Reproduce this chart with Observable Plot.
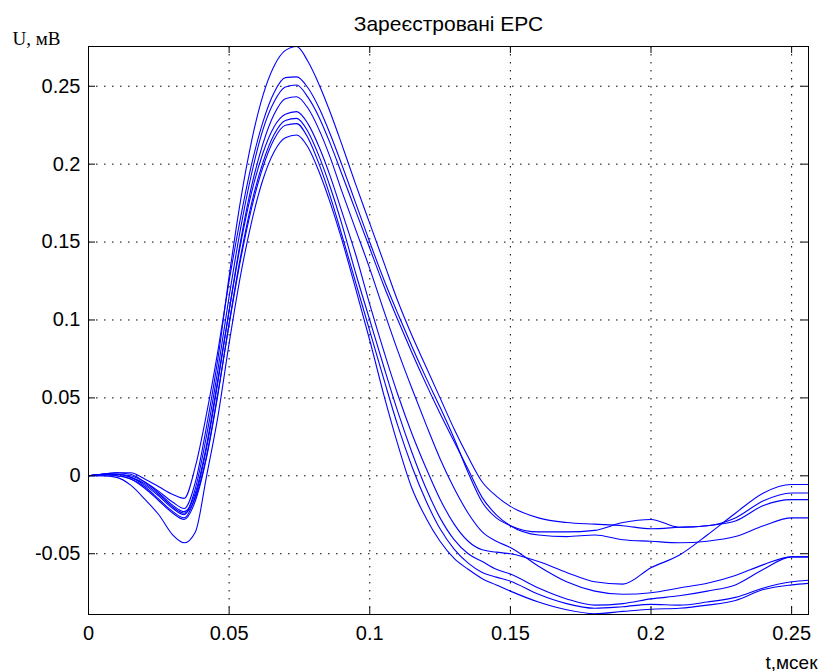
<!DOCTYPE html>
<html><head><meta charset="utf-8">
<script src="https://cdn.jsdelivr.net/npm/d3@7"></script>
<script src="https://cdn.jsdelivr.net/npm/@observablehq/plot@0.6"></script>
<style>body{margin:0;background:#fff} #chart{width:822px;height:671px}</style>
</head><body><div id="chart"></div>
<script>
// time grid, msec
const t = [0,0.005,0.01,0.015,0.02,0.025,0.03,
  0.034,0.038,0.042,0.046,0.05,0.054,0.058,0.062,0.066,0.07,0.074,0.078,0.082,0.086,0.09,
  0.095,0.1,0.105,0.11,0.115,0.12,0.125,0.13,0.135,0.14,0.145,0.15,
  0.16,0.17,0.18,0.19,0.2,0.21,0.22,0.23,0.24,0.25,
  0.256];
// registered EMF traces, mV
const U1 = [0,0.001,0.002,0.001,-0.004,-0.01,-0.017,
  -0.021,-0.004,0.032,0.075,0.128,0.176,0.215,0.244,0.263,0.273,0.2755,0.266,0.251,0.233,0.213,
  0.187,0.162,0.137,0.112,0.09,0.07,0.05,0.03,0.012,-0.004,-0.013,-0.0196,
  -0.027,-0.03,-0.031,-0.032,-0.034,-0.033,-0.032,-0.027,-0.016,-0.011,
  -0.011];
const U2 = [0,0.001,0.002,0.002,-0.002,-0.007,-0.012,
  -0.0145,0.006,0.04,0.08,0.125,0.165,0.2,0.227,0.246,0.2555,0.256,0.249,0.236,0.219,0.2,
  0.175,0.15,0.126,0.104,0.083,0.063,0.044,0.024,0.002,-0.017,-0.027,-0.032,
  -0.036,-0.036,-0.035,-0.030,-0.028,-0.033,-0.032,-0.029,-0.019,-0.0153,
  -0.0153];
const U3 = [0,0.001,0.001,-0.001,-0.006,-0.013,-0.021,
  -0.025,-0.008,0.026,0.068,0.115,0.158,0.194,0.222,0.24,0.2495,0.2508,0.243,0.23,0.213,0.194,
  0.17,0.146,0.122,0.1,0.079,0.059,0.04,0.022,0.004,-0.014,-0.025,-0.032,
  -0.038,-0.039,-0.038,-0.041,-0.042,-0.043,-0.042,-0.039,-0.032,-0.027,
  -0.027];
const L1 = [0,0.001,0,-0.002,-0.007,-0.015,-0.023,
  -0.027,-0.013,0.018,0.06,0.106,0.15,0.186,0.213,0.232,0.242,0.2433,0.236,0.222,0.204,0.183,
  0.158,0.133,0.106,0.08,0.056,0.033,0.011,-0.008,-0.024,-0.036,-0.042,-0.046,
  -0.058,-0.068,-0.074,-0.076,-0.075,-0.072,-0.069,-0.064,-0.057,-0.052,
  -0.052];
const C1 = [0,0.001,0.001,0,-0.004,-0.011,-0.019,
  -0.023,-0.011,0.02,0.062,0.106,0.148,0.182,0.207,0.224,0.232,0.2337,0.226,0.211,0.192,0.17,
  0.142,0.11,0.08,0.052,0.027,0.005,-0.015,-0.031,-0.042,-0.0475,-0.049,-0.05,
  -0.055,-0.062,-0.068,-0.0695,-0.059,-0.051,-0.038,-0.024,-0.011,-0.0056,
  -0.0056];
const L2 = [0,0,0,-0.002,-0.008,-0.016,-0.024,
  -0.028,-0.016,0.012,0.052,0.098,0.14,0.175,0.201,0.219,0.228,0.2294,0.221,0.205,0.185,0.162,
  0.13,0.1,0.07,0.041,0.015,-0.008,-0.027,-0.041,-0.05,-0.055,-0.06,-0.063,
  -0.072,-0.079,-0.083,-0.082,-0.079,-0.077,-0.074,-0.07,-0.06,-0.052,
  -0.052];
const L3 = [0,0.001,0.001,-0.001,-0.005,-0.012,-0.02,
  -0.024,-0.014,0.013,0.053,0.097,0.138,0.172,0.198,0.216,0.225,0.226,0.217,0.2,0.179,0.155,
  0.124,0.093,0.062,0.032,0.006,-0.016,-0.034,-0.047,-0.056,-0.062,-0.065,-0.0676,
  -0.076,-0.082,-0.085,-0.084,-0.0825,-0.083,-0.081,-0.078,-0.072,-0.068,
  -0.067];
const L4 = [0,0,-0.001,-0.006,-0.015,-0.025,-0.038,
  -0.043,-0.036,0,0.038,0.085,0.128,0.163,0.19,0.208,0.217,0.2187,0.211,0.195,0.175,0.152,
  0.12,0.087,0.052,0.02,-0.008,-0.027,-0.042,-0.053,-0.06,-0.066,-0.07,-0.074,
  -0.081,-0.086,-0.0885,-0.087,-0.0856,-0.085,-0.083,-0.08,-0.073,-0.07,
  -0.069];

const xTicks = [0,0.05,0.1,0.15,0.2,0.25];
const xTickLabels = ["0","0.05","0.1","0.15","0.2","0.25"];
const yTicks = [-0.05,0,0.05,0.1,0.15,0.2,0.25];
const yTickLabels = ["-0.05","0","0.05","0.1","0.15","0.2","0.25"];
const titleText = "Зареєстровані ЕРС";
const yLabel = "U, мВ";
const xLabel = "t,мсек";

const series = [U1,U2,U3,L1,C1,L2,L3,L4];
const rows = series.flatMap((s,k) => s.map((v,i) => ({t: t[i], v, k})));

const W = 822, H = 671, mL = 88, mR = 14, mT = 46, mB = 57;
const fW = W - mL - mR, fH = H - mT - mB, tl = 7;
const sans = "'Liberation Sans', Arial, Helvetica, sans-serif";

const chart = Plot.plot({
  width: W, height: H,
  marginLeft: mL, marginRight: mR, marginTop: mT, marginBottom: mB,
  style: {background: "#fff", color: "#000", fontFamily: sans, fontSize: "20px"},
  x: {domain: [0, 0.256]},
  y: {domain: [-0.089, 0.2755]},
  marks: [
    Plot.ruleX(xTicks.slice(1), {x: d => d, stroke: "#000", strokeWidth: 1, strokeDasharray: "1.5,6.5"}),
    Plot.ruleY(yTicks, {y: d => d, stroke: "#000", strokeWidth: 1, strokeDasharray: "1.5,6.5"}),
    Plot.line(rows, {x: "t", y: "v", z: "k", stroke: "#0000ff", strokeWidth: 1.1, curve: "monotone-x", clip: true}),
    Plot.frame({stroke: "#000", strokeWidth: 1}),
    Plot.tickX(xTicks, {x: d => d, insetTop: fH - tl, stroke: "#000"}),
    Plot.tickX(xTicks, {x: d => d, insetBottom: fH - tl, stroke: "#000"}),
    Plot.tickY(yTicks, {y: d => d, insetRight: fW - tl, stroke: "#000"}),
    Plot.tickY(yTicks, {y: d => d, insetLeft: fW - tl, stroke: "#000"}),
    Plot.axisX(xTicks, {tickSize: 0, tickPadding: 11, tickFormat: d => xTickLabels[xTicks.indexOf(d)], fontSize: 20, label: null}),
    Plot.axisY(yTicks, {tickSize: 0, tickPadding: 8, tickFormat: d => yTickLabels[yTicks.indexOf(d)], fontSize: 20, label: null}),
    Plot.text([titleText], {text: d => d, frameAnchor: "top", lineAnchor: "bottom", dy: -16, fontSize: 21}),
    Plot.text([yLabel], {text: d => d, frameAnchor: "top-left", textAnchor: "start", lineAnchor: "bottom", dx: -76, dy: -2, fontSize: 19, fontFamily: "'Liberation Serif', 'Times New Roman', serif"}),
    Plot.text([xLabel], {text: d => d, frameAnchor: "bottom-right", textAnchor: "end", lineAnchor: "bottom", dx: 9, dy: 54, fontSize: 19})
  ]
});
document.getElementById("chart").appendChild(chart);
</script>
</body></html>
